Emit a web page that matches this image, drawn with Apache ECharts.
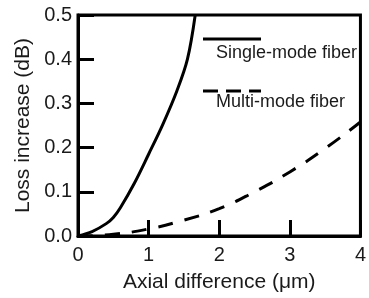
<!DOCTYPE html>
<html><head><meta charset="utf-8">
<script src="https://cdn.jsdelivr.net/npm/echarts@6/dist/echarts.min.js"></script>
<style>html,body{margin:0;padding:0;background:#fff}#c{width:369px;height:298px}</style>
</head><body><div id="c"></div>
<script>
const singleMode = [[0,0],[0.2,0.01],[0.4,0.028],[0.5,0.042],[0.6,0.064],[0.8,0.12],[1.0,0.185],[1.2,0.252],[1.4,0.328],[1.55,0.4],[1.66,0.5]];
const multiMode = [[0,0],[0.5,0.004],[1,0.016],[1.5,0.036],[2,0.062],[2.5,0.1],[3,0.145],[3.5,0.198],[4,0.258]];
const seriesNames = ['Single-mode fiber','Multi-mode fiber'];
const xTitle = 'Axial difference (μm)';
const yTitle = 'Loss increase (dB)';
const FONT = 'Liberation Sans';
const chart = echarts.init(document.getElementById('c'));
chart.setOption({
  animation:false,
  textStyle:{fontFamily:FONT},
  grid:{left:78,right:4,top:15,bottom:62,show:true,borderColor:'#000',borderWidth:3},
  xAxis:{type:'value',min:0,max:4,interval:1,
    name:xTitle,nameLocation:'middle',nameGap:36,
    nameTextStyle:{fontSize:21,color:'#1a1a1a',fontFamily:FONT},
    axisLine:{lineStyle:{color:'#000',width:3}},
    axisTick:{inside:true,length:16,lineStyle:{color:'#000',width:3}},
    axisLabel:{fontSize:20,color:'#1a1a1a',margin:9,fontFamily:FONT},
    splitLine:{show:false}},
  yAxis:{type:'value',min:0,max:0.5,interval:0.1,
    name:yTitle,nameLocation:'middle',nameGap:44,
    nameTextStyle:{fontSize:21,color:'#1a1a1a',fontFamily:FONT},
    axisLine:{lineStyle:{color:'#000',width:3}},
    axisTick:{inside:true,length:16,lineStyle:{color:'#000',width:3}},
    axisLabel:{fontSize:20,color:'#1a1a1a',margin:6,fontFamily:FONT,formatter:v=>v.toFixed(1)},
    splitLine:{show:false}},
  series:[
    {name:seriesNames[0],type:'line',data:singleMode,smooth:0.35,showSymbol:false,
     lineStyle:{color:'#000',width:3}},
    {name:seriesNames[1],type:'line',data:multiMode,smooth:true,showSymbol:false,
     lineStyle:{color:'#000',width:3,type:[15,12]}}
  ],
  graphic:[
    {type:'line',shape:{x1:203,y1:39,x2:261,y2:39},style:{stroke:'#000',lineWidth:3}},
    {type:'text',left:216,top:44,style:{text:seriesNames[0],fontSize:18,fill:'#1a1a1a',fontFamily:FONT}},
    {type:'line',shape:{x1:203,y1:91,x2:261,y2:91},style:{stroke:'#000',lineWidth:3,lineDash:[15,8]}},
    {type:'text',left:216,top:93,style:{text:seriesNames[1],fontSize:18,fill:'#1a1a1a',fontFamily:FONT}}
  ]
});
</script></body></html>
